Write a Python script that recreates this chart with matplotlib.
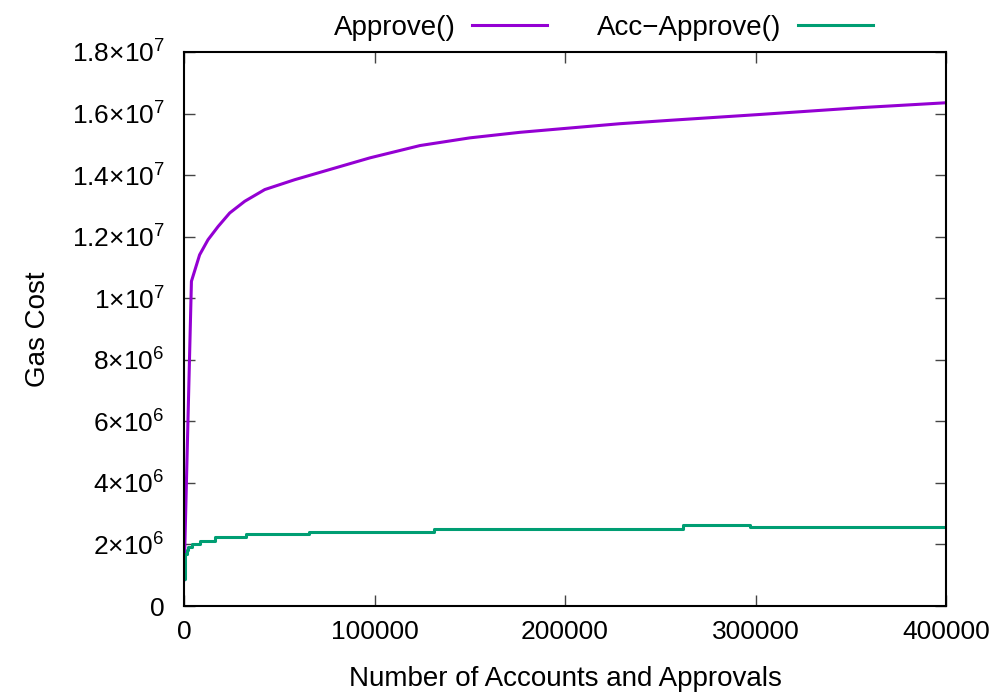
import matplotlib
matplotlib.use("Agg")
import matplotlib.pyplot as plt
from matplotlib.ticker import FuncFormatter, MultipleLocator

plt.rcParams['font.family'] = ['Liberation Sans', 'DejaVu Sans']
plt.rcParams['mathtext.fontset'] = 'custom'
plt.rcParams['mathtext.rm'] = 'Liberation Sans'
plt.rcParams['mathtext.default'] = 'regular'

# Approve(): gas cost vs number of accounts/approvals
approve_x = [0, 3900, 8200, 12600, 17900, 24000, 31900, 42400, 58100, 97600,
             123900, 150100, 176400, 202600, 228900, 255100, 302400, 354800, 400000]
approve_y = [0.85e6, 1.055e7, 1.141e7, 1.190e7, 1.233e7, 1.277e7, 1.315e7, 1.353e7,
             1.385e7, 1.456e7, 1.496e7, 1.521e7, 1.539e7, 1.553e7, 1.567e7, 1.578e7,
             1.597e7, 1.619e7, 1.635e7]

# Acc-Approve(): step-wise cost, jumps at powers of two
acc_x = [0, 300, 700, 1400, 2300, 4096, 8192, 16384, 32768, 65536, 131072,
         262144, 297000, 400000]
acc_y = [0.88e6, 1.45e6, 1.70e6, 1.82e6, 1.93e6, 2.03e6, 2.12e6, 2.23e6, 2.33e6,
         2.42e6, 2.50e6, 2.64e6, 2.57e6, 2.57e6]

purple = '#9400D3'
green = '#009E73'
tick_fs = 19
label_fs = 20

fig = plt.figure(figsize=(10, 6.93), dpi=100)
ax = fig.add_axes([0.184, 0.1255, 0.762, 0.7995])

ax.plot(approve_x, approve_y, color=purple, lw=2.2, label='Approve()')
ax.plot(acc_x, acc_y, color=green, lw=2.2, drawstyle='steps-post',
        label='Acc\u2212Approve()')

ax.set_xlim(0, 400000)
ax.set_ylim(0, 1.8e7)
ax.xaxis.set_major_locator(MultipleLocator(100000))
ax.yaxis.set_major_locator(MultipleLocator(2e6))


def sci_fmt(v, pos):
    if v == 0:
        return '0'
    exp = len(str(int(round(v)))) - 1
    mant = v / 10 ** exp
    m = ('%g' % round(mant, 2))
    return r'$%s{\times}10^{%d}$' % (m, exp)


ax.yaxis.set_major_formatter(FuncFormatter(sci_fmt))
ax.xaxis.set_major_formatter(FuncFormatter(lambda v, p: '%d' % v))

ax.tick_params(direction='in', length=8, width=1, colors='#444444',
               labelcolor='black', labelsize=tick_fs, top=True, right=True)
ax.tick_params(axis='x', pad=10)
ax.tick_params(axis='y', pad=14)
for s in ax.spines.values():
    s.set_linewidth(1.5)
    s.set_color('black')

ax.set_xlabel('Number of Accounts and Approvals', fontsize=label_fs, labelpad=16)
ax.set_ylabel('Gas Cost', fontsize=label_fs, labelpad=15)

ax.legend(loc='lower left', bbox_to_anchor=(0.182, 1.0), ncol=2, frameon=False,
          markerfirst=False, fontsize=label_fs, handlelength=2.7, columnspacing=1.8,
          handletextpad=0.6, borderaxespad=0.1, borderpad=0.3)

fig.savefig('out.png', dpi=100)
